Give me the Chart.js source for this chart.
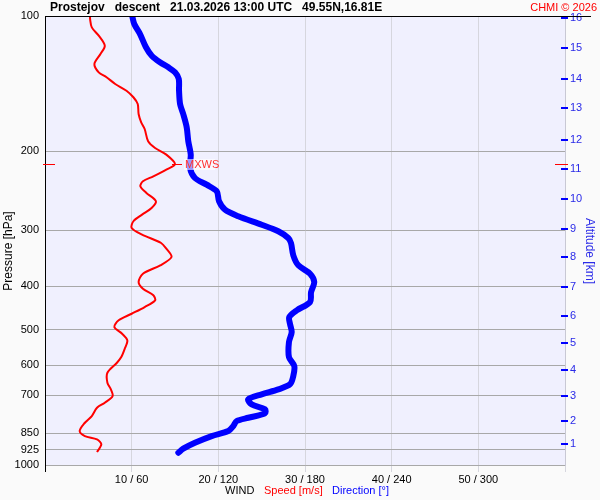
<!DOCTYPE html>
<html><head><meta charset="utf-8">
<script src="https://cdn.jsdelivr.net/npm/chart.js@4.4.1/dist/chart.umd.min.js"></script>
<style>html,body{margin:0;padding:0;background:#fafafa}canvas{display:block}</style>
</head><body>
<div style="width:600px;height:500px"><canvas id="c" width="600" height="500"></canvas></div>
<script>
// ---- data ----
const SPEED_P = [100,101.5,106.0,110.6,116.5,121.5,127.9,133.5,136.9,141.7,146.7,151.7,157.0,165.3,172.5,178.5,190.1,196.8,203.6,213.6,219.9,227.5,233.4,239.5,247.8,258.6,267.6,277.0,286.5,296.6,306.9,320.3,329.8,344.2,359.2,375.0,391.3,405.0,418.9,429.8,444.8,460.4,476.2,492.9,510.1,527.7,550.9,574.9,592.0,623.1,655.9,678.5,702.2,726.7,745.6,778.0,805.2,840.3,862.1,876.8,899.6,935.5];
const SPEED = [5.2,5.2,5.4,6.2,6.9,6.4,5.7,6.2,7.1,8.1,9.4,10.2,10.7,10.8,11.1,11.5,11.9,12.7,14.0,15.0,14.0,12.5,11.3,11.0,11.7,12.8,12.3,11.2,10.2,10.0,11.2,13.4,14.0,14.6,13.3,11.3,10.8,11.3,12.5,12.7,11.5,10.0,8.5,8.0,8.9,9.5,9.2,8.8,8.3,7.2,7.2,7.6,7.8,6.9,6.0,5.4,4.6,4.0,4.6,6.0,6.5,6.0];
const DIR_P = [100,104.2,109.7,117.4,122.6,126.8,130.1,133.5,138.1,146.7,157.0,165.3,177.0,190.1,203.6,218.0,229.5,237.5,245.7,258.6,270.0,279.3,291.6,301.6,312.2,320.3,341.2,359.2,375.0,391.3,411.9,433.6,452.4,468.2,484.6,505.6,532.3,574.9,602.1,633.6,661.3,678.5,696.1,714.1,732.7,751.7,767.3,784.8,798.0,818.7,840.3,862.1,892.2,919.8,938.9];
const DIR = [60.4,61.8,65.8,69.9,73.9,79.6,85.4,90.0,92.6,92.8,93.5,95.7,98.1,99.2,100.9,100.4,103.8,111.9,118.9,120.5,124.6,133.8,150.0,161.5,168.4,170.3,171.9,175.4,183.5,186.4,184.2,183.5,174.3,169.1,169.6,170.8,168.9,168.9,172.6,171.9,169.6,161.5,150.0,140.7,143.1,152.3,152.3,140.7,132.7,130.4,126.9,115.4,103.8,95.7,92.3];
const PRESSURE_TICKS = [100,200,300,400,500,600,700,850,925,1000];
const ALT_KM = [1,2,3,4,5,6,7,8,9,10,11,12,13,14,15,16];
const ALT_P = [898,798,702,614,535,466,401,344,298,256,219,189,160,138,118,101];
const SPEED_TICKS = [0,10,20,30,40,50,60];
const MXWS_P = 213.6, MXWS_SPEED = 15.0;
const TITLE = "Prostejov   descent   21.03.2026 13:00 UTC   49.55N,16.81E";
const COPY = "CHMI \u00A9 2026";

const FONT = "'Liberation Sans', Arial, sans-serif";
Chart.defaults.font.family = FONT;
Chart.defaults.font.size = 11;
const BLUE_TXT = '#2a2ae8';

const deco = {
  id: 'deco',
  beforeDraw(chart) {
    const c = chart.ctx, a = chart.chartArea;
    c.save();
    c.fillStyle = '#fafafa'; c.fillRect(0,0,chart.width,chart.height);
    c.fillStyle = '#f0f0fe'; c.fillRect(a.left,a.top,a.right-a.left,a.bottom-a.top);
    c.restore();
  },
  afterDraw(chart) {
    const c = chart.ctx, a = chart.chartArea;
    const y = chart.scales.y, y2 = chart.scales.y2, x = chart.scales.x;
    c.save();
    // frame lines
    c.fillStyle = '#000';
    c.fillRect(a.left, a.top, 591 - a.left, 1);
    c.fillRect(a.left, a.top, 1, 472 - a.top);
    // right axis ticks
    c.fillStyle = '#0000ff';
    ALT_P.forEach(p => { const py = Math.round(y2.getPixelForValue(p)); c.fillRect(a.right-4, py-1, 7, 2); });
    // MXWS markers
    const my = Math.round(y.getPixelForValue(MXWS_P));
    c.fillStyle = '#ff0000';
    c.fillRect(a.left-2, my, 12, 1);
    c.fillRect(a.right-10, my, 13, 1);
    const mx = x.getPixelForValue(MXWS_SPEED);
    c.fillRect(mx-3, my, 10, 1);
    c.fillStyle = 'rgba(255,255,255,0.6)';
    c.fillRect(mx+9, my-5, 31, 11);
    c.fillStyle = '#ff3030';
    c.font = '11px ' + FONT; c.textBaseline = 'middle'; c.textAlign = 'left';
    c.fillText('MXWS', mx+10, my+1);
    // titles
    c.fillStyle = '#000'; c.font = 'bold 12px ' + FONT; c.textAlign = 'left';
    c.fillText(TITLE, 50, 8);
    c.fillStyle = '#ff0000'; c.font = '11px ' + FONT; c.textAlign = 'right';
    c.fillText(COPY, 597, 8);
    // bottom legend
    c.font = '11px ' + FONT; c.textAlign = 'left';
    c.fillStyle = '#000'; c.fillText('WIND', 225, 491);
    c.fillStyle = '#ff0000'; c.fillText('Speed [m/s]', 264, 491);
    c.fillStyle = '#0000ff'; c.fillText('Direction [\u00B0]', 332, 491);
    // axis titles
    c.font = '12px ' + FONT; c.textAlign = 'center';
    c.save(); c.translate(9, 251); c.rotate(-Math.PI/2); c.fillStyle = '#000'; c.fillText('Pressure [hPa]', 0, 0); c.restore();
    c.save(); c.translate(589, 251); c.rotate(Math.PI/2); c.fillStyle = BLUE_TXT; c.fillText('Altitude [km]', 0, 0); c.restore();
    c.restore();
  }
};

new Chart(document.getElementById('c'), {
  type: 'scatter',
  data: {
    datasets: [
      { data: SPEED_P.map((p,i)=>({x:SPEED[i], y:p})), xAxisID:'x', yAxisID:'y', showLine:true,
        borderColor:'#ff0000', borderWidth:2, pointRadius:0, tension:0.3 },
      { data: DIR_P.map((p,i)=>({x:DIR[i], y:p})), xAxisID:'x2', yAxisID:'y', showLine:true,
        borderColor:'#0000ff', borderWidth:6, pointRadius:0, tension:0.3, borderCapStyle:'round', borderJoinStyle:'round' }
    ]
  },
  options: {
    responsive:false, animation:false, devicePixelRatio:1,
    layout:{ padding:{ top:16, left:0, right:0, bottom:0 } },
    plugins:{ legend:{display:false}, tooltip:{enabled:false} },
    scales:{
      x:{ type:'linear', position:'bottom', min:0, max:60,
          afterBuildTicks: s => { s.ticks = SPEED_TICKS.map(v=>({value:v})); },
          afterFit: s => { s.height = 35; },
          ticks:{ autoSkip:false, maxRotation:0, padding:1, color:'#000',
                  callback: v => (v===0||v===60) ? '' : (v + ' / ' + (v*6)) },
          grid:{ color:'#d6d6de', tickColor:'#d6d6de', tickLength:7, drawTicks:true },
          border:{ color:'#a8a8a8' } },
      x2:{ type:'linear', min:0, max:360, display:false },
      y:{ type:'logarithmic', position:'left', reverse:true, min:100, max:1000,
          afterBuildTicks: s => { s.ticks = PRESSURE_TICKS.map(v=>({value:v})); },
          afterFit: s => { s.width = 45; },
          ticks:{ autoSkip:false, padding:6, color:'#000', callback: v => String(v) },
          grid:{ color:'#a8a8a8', drawTicks:false },
          border:{ color:'#000' } },
      y2:{ type:'logarithmic', position:'right', reverse:true, min:100, max:1000,
          afterBuildTicks: s => { s.ticks = ALT_P.map(v=>({value:v})); },
          afterFit: s => { s.width = 35; },
          ticks:{ autoSkip:false, padding:5, color:BLUE_TXT, callback: (v,i) => String(ALT_KM[i]) },
          grid:{ drawOnChartArea:false, drawTicks:false },
          border:{ color:'#c8c8d4' } }
    }
  },
  plugins:[deco]
});
</script>
</body></html>
